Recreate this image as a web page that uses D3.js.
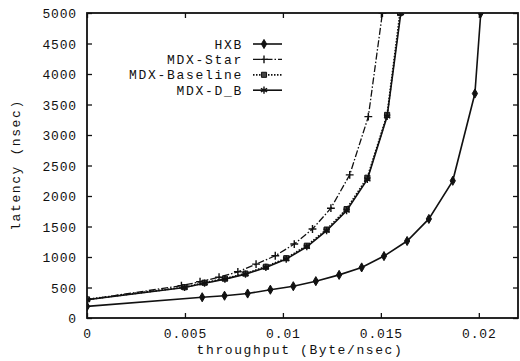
<!DOCTYPE html>
<html lang="en">
<head>
<meta charset="UTF-8">
<title>latency vs throughput</title>
<script src="https://d3js.org/d3.v7.min.js"></script>
<style>
  body { margin: 0; background: #fff; }
  text { font-family: "Liberation Mono", "DejaVu Sans Mono", monospace; fill: #111; }
</style>
</head>
<body>
<div id="chart"></div>
<script>
// data: throughput (Byte/nsec) and latency (nsec)
const hxbX = [0, 0.00588, 0.00702, 0.0082, 0.00936, 0.01053, 0.01168, 0.01287, 0.01402, 0.01516, 0.01634, 0.01745, 0.01867, 0.0198, 0.0201];
const hxbY = [190, 340, 365, 401, 464, 521, 604, 707, 829, 1015, 1262, 1624, 2249, 3680, 5000];

const starX = [0, 0.00482, 0.00577, 0.00674, 0.0077, 0.00863, 0.00961, 0.01058, 0.01151, 0.01245, 0.01341, 0.01436, 0.01508];
const starY = [300, 530, 595, 669, 757, 883, 1020, 1212, 1459, 1800, 2347, 3301, 5000];

const baseX = [0, 0.00498, 0.006, 0.00704, 0.00809, 0.00913, 0.01017, 0.01122, 0.01223, 0.01325, 0.01431, 0.01532, 0.01598];
const baseY = [305, 505, 578, 645, 728, 840, 980, 1185, 1450, 1785, 2300, 3330, 5000];

const dbX = [0, 0.00498, 0.006, 0.00704, 0.00809, 0.00913, 0.01017, 0.01122, 0.01223, 0.01325, 0.01431, 0.01532, 0.01602];
const dbY = [300, 500, 571, 637, 719, 829, 966, 1168, 1431, 1760, 2273, 3306, 5000];

const seriesNames = ["HXB", "MDX-Star", "MDX-Baseline", "MDX-D_B"];
const xTicks = [0, 0.005, 0.01, 0.015, 0.02];
const yTicks = [0, 500, 1000, 1500, 2000, 2500, 3000, 3500, 4000, 4500, 5000];

const width = 520, height = 361;
const margin = { left: 87, right: 2, top: 13, bottom: 43 };

const svg = d3.select("#chart").append("svg")
    .attr("width", width)
    .attr("height", height);

const x = d3.scaleLinear().domain([0, 0.022]).range([margin.left, width - margin.right]);
const y = d3.scaleLinear().domain([0, 5000]).range([height - margin.bottom, margin.top]);

// clip so the curves stop at the frame
svg.append("clipPath").attr("id", "plot")
  .append("rect")
    .attr("x", margin.left).attr("y", margin.top)
    .attr("width", x.range()[1] - margin.left)
    .attr("height", y.range()[0] - margin.top);

// axes with inward ticks, mirrored on top and right
const fmtX = d => d === 0 ? "0" : String(d);
svg.append("g")
    .attr("transform", `translate(0,${y(0)})`)
    .call(d3.axisBottom(x).tickValues(xTicks).tickSize(-5).tickPadding(11).tickFormat(fmtX))
    .call(g => g.selectAll("text").attr("font-size", 13).attr("letter-spacing", 0.85));
svg.append("g")
    .attr("transform", `translate(0,${y(5000)})`)
    .call(d3.axisTop(x).tickValues(xTicks).tickSize(-5).tickFormat(""));
svg.append("g")
    .attr("transform", `translate(${x(0)},0)`)
    .call(d3.axisLeft(y).tickValues(yTicks).tickSize(-5).tickPadding(10).tickFormat(d3.format("d")))
    .call(g => g.selectAll("text").attr("font-size", 13).attr("letter-spacing", 0.85).attr("dy", "0.36em"));
svg.append("g")
    .attr("transform", `translate(${x(0.022)},0)`)
    .call(d3.axisRight(y).tickValues(yTicks).tickSize(-5).tickFormat(""));

svg.selectAll(".domain").remove();
svg.selectAll(".tick line").attr("stroke", "#111").attr("stroke-width", 1.3);

// frame
svg.append("rect")
    .attr("x", x(0)).attr("y", y(5000))
    .attr("width", x(0.022) - x(0))
    .attr("height", y(0) - y(5000))
    .attr("fill", "none")
    .attr("stroke", "#111")
    .attr("stroke-width", 1.8);

// axis titles
svg.append("text")
    .attr("x", 300).attr("y", 354)
    .attr("text-anchor", "middle")
    .attr("font-size", 13).attr("letter-spacing", 1.6)
    .text("throughput (Byte/nsec)");
svg.append("text")
    .attr("transform", "translate(20,165) rotate(-90)")
    .attr("text-anchor", "middle")
    .attr("font-size", 13).attr("letter-spacing", 1.6)
    .text("latency (nsec)");

const series = [
  { name: seriesNames[0], xs: hxbX, ys: hxbY, dash: null, width: 1.6, sym: d3.symbolDiamond, size: 24, fill: "#111" },
  { name: seriesNames[1], xs: starX, ys: starY, dash: "7,2,1.5,2", width: 1.3, sym: d3.symbolPlus, size: 22, fill: "none" },
  { name: seriesNames[2], xs: baseX, ys: baseY, dash: "1.5,1.5", width: 1.8, sym: d3.symbolSquare, size: 26, fill: "#444" },
  { name: seriesNames[3], xs: dbX, ys: dbY, dash: null, width: 1.6, sym: d3.symbolAsterisk, size: 36, fill: "none" }
];

const line = d3.line().x(d => x(d[0])).y(d => y(d[1]));
const plot = svg.append("g").attr("clip-path", "url(#plot)");

function drawSymbol(g, s, px, py) {
  g.append("path")
    .attr("transform", `translate(${px},${py})`)
    .attr("d", d3.symbol().type(s.sym).size(s.size)())
    .attr("fill", s.fill)
    .attr("stroke", "#111")
    .attr("stroke-width", s.fill === "none" ? 1.4 : 1);
}

series.forEach(s => {
  const pts = s.xs.map((v, i) => [v, s.ys[i]]);
  plot.append("path")
    .datum(pts)
    .attr("d", line)
    .attr("fill", "none")
    .attr("stroke", "#111")
    .attr("stroke-width", s.width)
    .attr("stroke-dasharray", s.dash);
  pts.forEach(p => drawSymbol(plot, s, x(p[0]), y(p[1])));
});

// legend
const legend = svg.append("g");
series.forEach((s, i) => {
  const ly = 44 + i * 15.4;
  legend.append("text")
    .attr("x", 243).attr("y", ly)
    .attr("dy", "0.35em")
    .attr("text-anchor", "end")
    .attr("font-size", 13).attr("letter-spacing", 1.7)
    .text(s.name);
  legend.append("line")
    .attr("x1", 253).attr("x2", 282)
    .attr("y1", ly).attr("y2", ly)
    .attr("stroke", "#111")
    .attr("stroke-width", s.width)
    .attr("stroke-dasharray", s.dash);
  drawSymbol(legend, s, 264, ly);
});
</script>
</body>
</html>
